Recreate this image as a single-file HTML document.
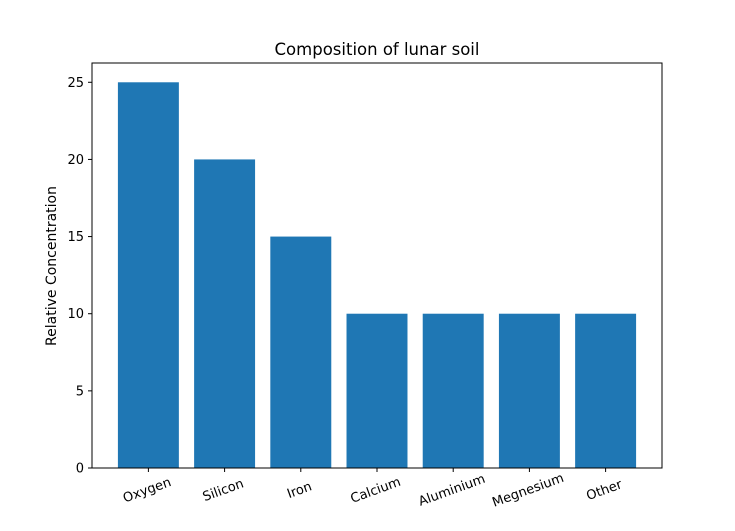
<!DOCTYPE html>
<html><head><meta charset="utf-8"><style>
body{margin:0;background:#fff;}
svg text{font-family:"DejaVu Sans","Liberation Sans",sans-serif;fill:#000;}
</style></head><body>
<svg id="chart" width="735" height="526" xmlns="http://www.w3.org/2000/svg">
<rect width="735" height="526" fill="#fff"/>
<text x="377" y="55" font-size="16.5" text-anchor="middle">Composition of lunar soil</text>
<text transform="translate(56,266) rotate(-90)" font-size="14" text-anchor="middle">Relative Concentration</text>
<g id="bars"></g><g id="yticks"></g><g id="xticks"></g>
<rect x="92" y="63" width="570" height="405" fill="none" stroke="#000" stroke-width="1"/>
</svg>
<script>
const categories=["Oxygen","Silicon","Iron","Calcium","Aluminium","Megnesium","Other"];
const values=[25,20,15,10,10,10,10];
const yTickValues=[0,5,10,15,20,25];
const NS="http://www.w3.org/2000/svg";
const L=92,R=662,T=63,B=468,ymax=26.25,xmin=-0.74,xmax=6.74;
const xs=v=>L+(v-xmin)/(xmax-xmin)*(R-L);
const ys=v=>B-v/ymax*(B-T);
function mk(tag,attrs,parent){const e=document.createElementNS(NS,tag);for(const k in attrs)e.setAttribute(k,attrs[k]);document.getElementById(parent).appendChild(e);return e;}
values.forEach((v,i)=>{
 const r=mk('rect',{x:xs(i-0.4),y:ys(v),width:xs(i+0.4)-xs(i-0.4),height:ys(0)-ys(v),fill:'#1f77b4'},'bars');
 
 
 const t=mk('line',{x1:xs(i),x2:xs(i),y1:B,y2:B+4,stroke:'#000'},'xticks');
 
 
 const lb=mk('text',{'font-size':13,'text-anchor':'middle',transform:`translate(${xs(i)},${B+26}) rotate(-20)`},'xticks');
 lb.textContent=categories[i];
 
 
});
yTickValues.forEach(v=>{
 const t=mk('line',{x1:L-4,x2:L,y1:ys(v),y2:ys(v),stroke:'#000'},'yticks');
 
 
 const lb=mk('text',{x:L-8,y:ys(v)+4.5,'font-size':13,'text-anchor':'end'},'yticks');
 lb.textContent=v;
 
 
});
</script>
</body></html>
